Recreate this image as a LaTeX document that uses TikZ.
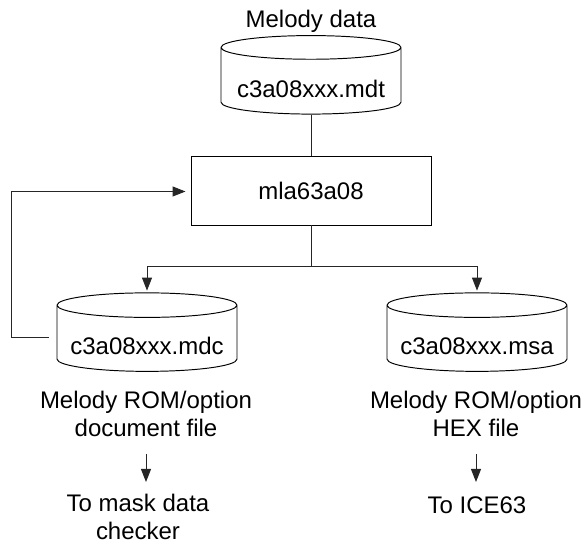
\documentclass[tikz,border=0pt]{standalone}
\usepackage{fontspec}
\setmainfont{Liberation Sans}
\usetikzlibrary{shapes.geometric,arrows.meta}

\newcommand{\filename}[1]{\raisebox{-0.33cm}[0pt][0pt]{#1}}

\tikzset{
	base/.style={line width=0.55pt,black!85},
	file/.style={shape=cylinder,shape border rotate=90,draw=black,line width=0.55pt,aspect=0.16,minimum width=3.6cm,minimum height=1.57cm,inner sep=0pt,text=black},
	note/.style={align=center,inner sep=0pt,text=black,font=\fontsize{13.65}{16}\selectfont},
	flow/.style={base,-{Triangle[length=0.26cm,width=0.2cm]}}
}

\begin{document}
\begin{tikzpicture}[font=\fontsize{13.65}{16}\selectfont]
	\useasboundingbox (0,0) rectangle (11.66,10.86);

	\node[note] (data) at (6.22,10.43) {Melody data};
	\node[file] (mdt) at (6.22,9.24) {\filename{c3a08xxx.mdt}};
	\node[shape=rectangle,draw=black,line width=0.55pt,minimum width=4.8cm,minimum height=1.38cm] (mla) at (6.22,7.05) {mla63a08};
	\node[file] (mdc) at (2.94,4.09) {\filename{c3a08xxx.mdc}};
	\node[file] (msa) at (9.54,4.09) {\filename{c3a08xxx.msa}};

	\node[note] (mdcnote) at (2.92,2.58) {Melody ROM/option\\document file};
	\node[note] (msanote) at (9.52,2.58) {Melody ROM/option\\HEX file};
	\node[note] (masknote) at (2.76,0.52) {To mask data\\checker};
	\node[note] (icenote) at (9.54,0.76) {To ICE63};

	\coordinate (split) at (6.22,5.54);
	\coordinate (turn) at (0.22,4.12);

	\draw[base] (mdt) -- (mla);
	\draw[base] (mla) -- (split);
	\draw[flow,shorten >=1pt] (split) -| (mdc);
	\draw[flow,shorten >=1pt] (split) -| (msa);
	\draw[flow,shorten <=0.16cm,shorten >=0.1cm] (mdc.west |- turn) -- (turn) |- ([yshift=-0.02cm]mla.west);
	\draw[flow] (2.92,1.78) -- (2.92,1.22);
	\draw[flow] (9.52,1.78) -- (9.52,1.22);
\end{tikzpicture}
\end{document}
